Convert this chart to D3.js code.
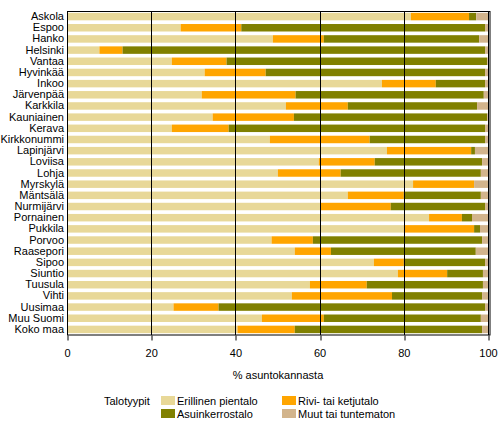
<!DOCTYPE html>
<html><head><meta charset="utf-8">
<script src="https://cdn.jsdelivr.net/npm/d3@7"></script>
<style>
body{margin:0;background:#fff;}
svg{display:block;font-family:"Liberation Sans",Arial,sans-serif;}
</style></head>
<body><svg id="c" width="501" height="427"></svg>
<script>
const categories = ["Askola","Espoo","Hanko","Helsinki","Vantaa","Hyvinkää","Inkoo","Järvenpää","Karkkila","Kauniainen","Kerava","Kirkkonummi","Lapinjärvi","Loviisa","Lohja","Myrskylä","Mäntsälä","Nurmijärvi","Pornainen","Pukkila","Porvoo","Raasepori","Sipoo","Siuntio","Tuusula","Vihti","Uusimaa","Muu Suomi","Koko maa"];
const erillinen = [81.7,27.0,48.9,7.7,24.9,32.7,74.8,32.0,52.0,34.6,24.9,48.2,76.0,59.8,50.1,82.2,66.7,60.3,86.0,80.0,48.6,54.1,72.9,78.6,57.7,53.4,25.3,46.3,40.5];
const rivi      = [13.8,14.4,12.1,5.5,13.0,14.5,12.8,22.3,14.7,19.3,13.5,23.7,20.0,13.3,14.9,14.5,13.3,16.6,7.8,16.7,9.8,8.6,7.1,11.7,13.5,23.8,10.7,14.7,13.6];
const kerros    = [1.7,57.9,36.9,86.1,61.9,52.1,11.7,44.7,30.7,45.9,60.9,27.4,0.9,25.5,33.3,0.0,18.3,22.4,2.4,1.4,40.2,34.4,19.3,8.5,27.6,21.4,63.3,37.3,44.5];
const muut      = [2.8,0.7,2.1,0.7,0.2,0.7,0.7,1.0,2.6,0.2,0.7,0.7,3.1,1.4,1.7,3.3,1.7,0.7,3.8,1.9,1.4,2.9,0.7,1.2,1.2,1.4,0.7,1.7,1.4];
const seriesNames = ["Erillinen pientalo","Rivi- tai ketjutalo","Asuinkerrostalo","Muut tai tuntematon"];
const colors = ["#e8d898","#ffa500","#808000","#d2b48c"];
const xTicks = [0,20,40,60,80,100];

const rows = categories.map((c,i)=>({cat:c, v:[erillinen[i],rivi[i],kerros[i],muut[i]]}));
const svg = d3.select("#c");
const x = d3.scaleLinear().domain([0,100]).range([67,488]);
const y = d3.scaleBand().domain(categories).range([11,335]).paddingInner(0.33).paddingOuter(0.165);

// bars
rows.forEach(r=>{
  let acc=0;
  r.v.forEach((v,k)=>{
    svg.append("rect").attr("x",x(acc)).attr("y",y(r.cat))
      .attr("width",Math.max(0,x(acc+v)-x(acc))).attr("height",y.bandwidth())
      .attr("fill",colors[k]);
    acc+=v;
  });
});

// grid lines
xTicks.slice(1).forEach(t=>{
  const px=Math.round(x(t))+0.5;
  svg.append("line").attr("x1",px).attr("x2",px).attr("y1",11).attr("y2",335).attr("stroke","#000");
});
// frame
svg.append("rect").attr("x",67.5).attr("y",11.5).attr("width",490-67.5).attr("height",335-11.5)
  .attr("fill","none").attr("stroke","#000");

// x axis
const ax = svg.append("g").attr("transform","translate(0,335.5)")
  .call(d3.axisBottom(x).tickValues(xTicks).tickSize(5).tickPadding(9).tickSizeOuter(0));
ax.select(".domain").remove();
ax.selectAll("line").attr("stroke","#000").attr("transform",d=>`translate(${Math.round(x(d))+0.5-x(d)},0)`);
ax.selectAll("text").attr("font-size","11px").attr("fill","#000").attr("font-family","Liberation Sans, Arial, sans-serif");

// y labels
const ay = svg.append("g").attr("transform","translate(67,0)")
  .call(d3.axisLeft(y).tickSize(0).tickPadding(3));
ay.select(".domain").remove();
ay.selectAll("text").attr("font-size","11px").attr("fill","#000").attr("font-family","Liberation Sans, Arial, sans-serif");

// axis title
svg.append("text").attr("x",278).attr("y",379).attr("text-anchor","middle")
  .attr("font-size","11px").text("% asuntokannasta");

// legend
svg.append("text").attr("x",104).attr("y",404.5).attr("font-size","11px").text("Talotyypit");
const legPos = [[161,396],[282,396],[161,409],[282,409]];
const legOrder = [0,1,2,3];
legOrder.forEach((k,i)=>{
  const [lx,ly]=legPos[i];
  svg.append("rect").attr("x",lx).attr("y",ly).attr("width",14).attr("height",9).attr("fill",colors[k]);
  svg.append("text").attr("x",lx+16).attr("y",ly+8.5).attr("font-size","11px").text(seriesNames[k]);
});
</script></body></html>
